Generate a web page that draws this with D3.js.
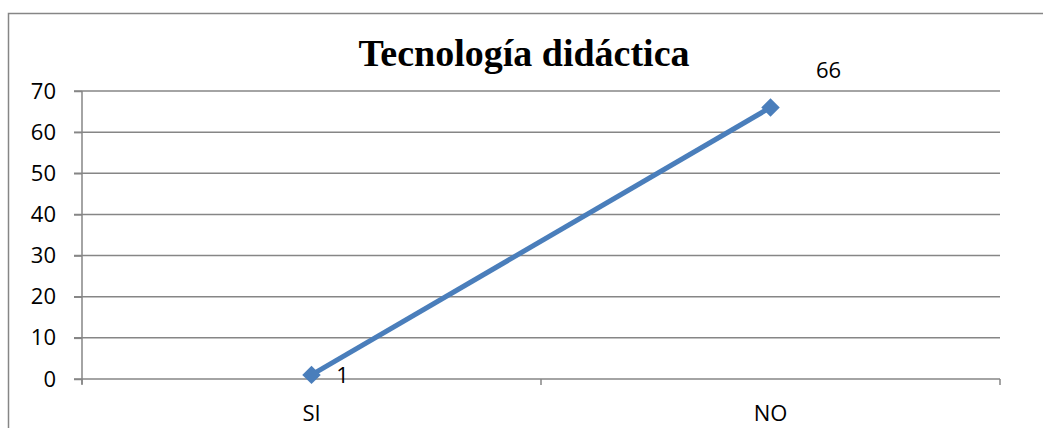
<!DOCTYPE html>
<html>
<head>
<meta charset="utf-8">
<script src="https://cdn.jsdelivr.net/npm/d3@7"></script>
<style>
  body { margin: 0; background: #fff; }
  svg text { font-family: "Open Sans", Lato, "Liberation Sans", sans-serif; }
</style>
</head>
<body>
<div id="chart"></div>
<script>
// Tecnología didáctica - simple line chart, SI vs NO

const categories = ["SI", "NO"];
const values = [1, 66];
const yTicks = [0, 10, 20, 30, 40, 50, 60, 70];
const title = "Tecnología didáctica";

const width = 1043, height = 428;
const plot = { left: 82, right: 1000, top: 91, bottom: 379 };
const gridColor = "#868686";
const lineColor = "#4a7ebb";
const labelSize = "22px";

const svg = d3.select("#chart").append("svg")
    .attr("width", width)
    .attr("height", height);

// outer chart frame (runs off the page on right and bottom)
svg.append("rect")
    .attr("x", 8.5).attr("y", 13.5)
    .attr("width", 1200).attr("height", 600)
    .attr("fill", "none")
    .attr("stroke", gridColor)
    .attr("stroke-width", 1.5);

const x = d3.scaleBand()
    .domain(categories)
    .range([plot.left, plot.right])
    .padding(0);

const y = d3.scaleLinear()
    .domain([0, 70])
    .range([plot.bottom, plot.top]);

// gridlines
svg.append("g")
    .selectAll("line")
    .data(yTicks)
    .enter().append("line")
    .attr("x1", plot.left - 8)
    .attr("x2", plot.right)
    .attr("y1", d => y(d))
    .attr("y2", d => y(d))
    .attr("stroke", gridColor)
    .attr("stroke-width", 1.5);

// y axis labels
const yAxis = svg.append("g")
    .attr("transform", `translate(${plot.left},0)`)
    .call(d3.axisLeft(y).tickValues(yTicks).tickSize(8).tickPadding(18));
yAxis.select(".domain")
    .attr("stroke", gridColor).attr("stroke-width", 1.5)
    .attr("d", `M0,${plot.top}V${plot.bottom + 5}`);
yAxis.selectAll(".tick line").attr("stroke", gridColor).attr("stroke-width", 1.5);
yAxis.selectAll(".tick text")
    .style("font-size", labelSize)
    .attr("fill", "#000");

// x axis
const xAxis = svg.append("g")
    .attr("transform", `translate(0,${plot.bottom})`)
    .call(d3.axisBottom(x).tickSize(0).tickPadding(26));
xAxis.select(".domain").remove();
xAxis.selectAll(".tick text")
    .style("font-size", labelSize)
    .attr("fill", "#000");

// category boundary ticks
const bounds = [plot.left].concat(categories.map(c => x(c) + x.bandwidth()));
svg.append("g")
    .selectAll("line")
    .data(bounds)
    .enter().append("line")
    .attr("x1", d => d).attr("x2", d => d)
    .attr("y1", plot.bottom)
    .attr("y2", plot.bottom + 6)
    .attr("stroke", gridColor)
    .attr("stroke-width", 1.5);

const cx = d => x(d) + x.bandwidth() / 2;

// series line
const line = d3.line()
    .x((d, i) => cx(categories[i]))
    .y(d => y(d));

svg.append("path")
    .datum(values)
    .attr("d", line)
    .attr("fill", "none")
    .attr("stroke", lineColor)
    .attr("stroke-width", 5);

// diamond markers
svg.append("g")
    .selectAll("path")
    .data(values)
    .enter().append("path")
    .attr("d", d3.symbol().type(d3.symbolSquare).size(170))
    .attr("transform", (d, i) => `translate(${cx(categories[i])},${y(d)}) rotate(45)`)
    .attr("fill", lineColor);

// data labels
svg.append("g")
    .selectAll("text")
    .data(values)
    .enter().append("text")
    .attr("x", (d, i) => cx(categories[i]) + (i === 0 ? 31 : 58))
    .attr("y", (d, i) => y(d) + (i === 0 ? 8 : -29))
    .attr("text-anchor", "middle")
    .style("font-size", labelSize)
    .text(d => d);

// title
svg.append("text")
    .attr("x", 524)
    .attr("y", 66)
    .attr("text-anchor", "middle")
    .style("font-family", "'Liberation Serif', 'Times New Roman', serif")
    .style("font-weight", "bold")
    .style("font-size", "38px")
    .text(title);
</script>
</body>
</html>
